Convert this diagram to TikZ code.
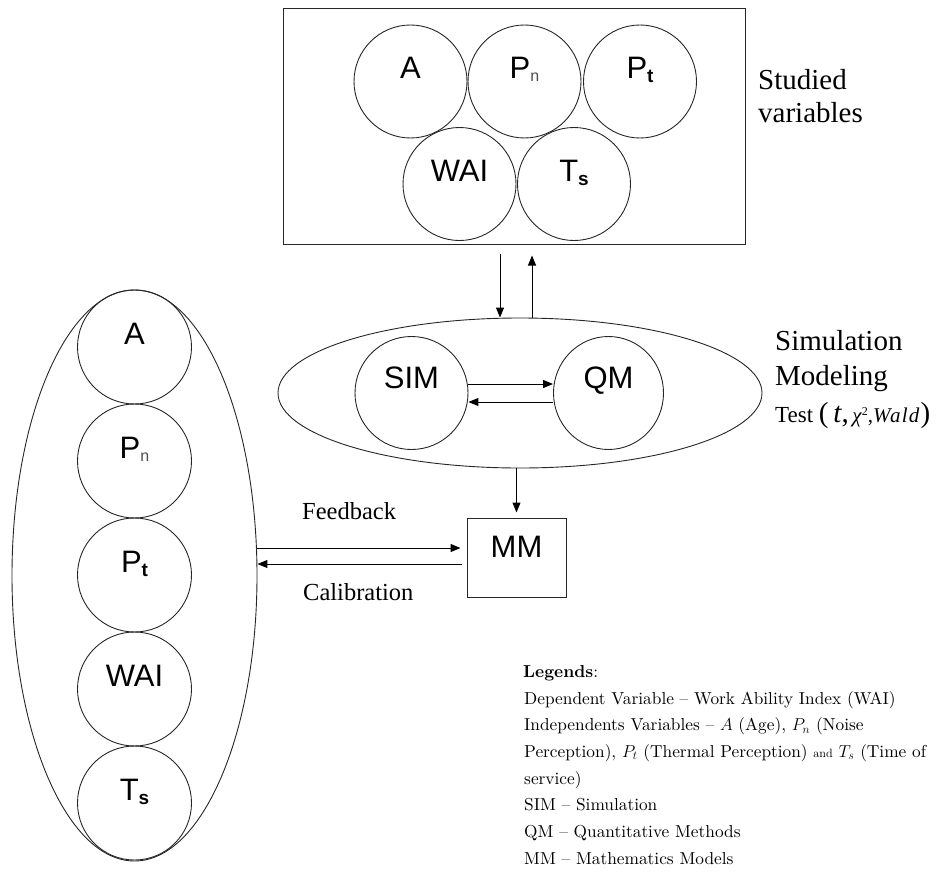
\documentclass[tikz,border=0pt]{standalone}
\usepackage{fontspec}
\newfontfamily\arialf{Liberation Sans}
\newfontfamily\timesf{Liberation Serif}
\newfontfamily\lmten{lmroman10-regular}[Extension=.otf, Ligatures=TeX, BoldFont=lmroman10-bold, ItalicFont=lmroman10-italic]
\usetikzlibrary{shapes.geometric,arrows.meta}
\newcommand{\sbl}[1]{{\fontsize{16}{16}\selectfont\raisebox{-3pt}{\color{black!70}#1}}}
\newcommand{\sbb}[1]{{\fontsize{19}{19}\selectfont\bfseries\raisebox{-4pt}{#1}}}
\begin{document}
\begin{tikzpicture}[x=1pt,y=-1pt,
  ln/.style={line width=0.9pt, draw=black!85},
  circ/.style={circle, ln, inner sep=0pt, minimum size=113pt,
    font=\arialf\fontsize{31}{31}\selectfont, text height=10pt, text depth=16pt},
  bigc/.style={circ, minimum size=114pt},
  mcirc/.style={circ, text depth=20pt},
  framebox/.style={rectangle, draw=black!85, line width=1pt, inner sep=0pt},
  oval/.style={ellipse, ln, inner sep=0pt},
  arr/.style={line width=1pt, draw=black, -{Triangle[length=10pt,width=8pt]}},
  serif/.style={inner sep=0pt, anchor=base west, font=\timesf\fontsize{29}{29}\selectfont},
  fbtxt/.style={inner sep=0pt, anchor=base west, font=\timesf\fontsize{24.5}{24.5}\selectfont},
  leg/.style={inner sep=0pt, anchor=base west, font=\lmten\fontsize{17.3}{17.3}\selectfont}
]
\useasboundingbox (0,0) rectangle (936,880);

% Studied variables box
\node[framebox, minimum width=462pt, minimum height=235pt] (top) at (514,126.5) {};
\node[circ] (tA)   at (410.5,81.5) {A};
\node[circ] (tPn)  at (524.5,81.5) {P\sbl{n}};
\node[circ] (tPt)  at (640,81.5)   {P\sbb{t}};
\node[circ] (tWAI) at (459.5,184)  {WAI};
\node[circ] (tTs)  at (574,184)    {T\sbb{s}};
\node[serif] (st1) at (758,90)  {Studied};
\node[serif] (st2) at (758,123) {variables};

% Simulation modeling
\node[oval, minimum width=484pt, minimum height=150pt] (mid) at (520,393) {};
\node[mcirc] (SIM) at (411.5,393) {SIM};
\node[mcirc, ellipse, minimum width=110pt, minimum height=113pt] (QM) at (608.5,393) {QM};
\node[serif] (sm1) at (775,350) {Simulation};
\node[serif] (sm2) at (775,385) {Modeling};
\node[inner sep=0pt, anchor=base west, font=\timesf] (sm3) at (775,422)
  {{\fontsize{23}{23}\selectfont Test }{\fontsize{29}{29}\selectfont(\,\textit{t},}{\fontsize{21}{21}\selectfont\,\textit{χ}\raisebox{7pt}{\fontsize{12}{12}\selectfont 2},\addfontfeatures{LetterSpace=6}\textit{Wald}}{\fontsize{29}{29}\selectfont)}};

% MM box
\node[framebox, minimum width=99pt, minimum height=79pt,
  font=\arialf\fontsize{31}{31}\selectfont, text height=12pt, text depth=12pt] (MM) at (516.5,557.5) {MM};

% Left column
\node[oval, minimum width=245pt, minimum height=571pt] (L) at (134.5,575.5) {};
\node[bigc] (lA)   at (134.5,347) {A};
\node[bigc] (lPn)  at (134.5,461) {P\sbl{n}};
\node[bigc] (lPt)  at (134.5,575) {P\sbb{t}};
\node[bigc] (lWAI) at (134.5,689) {WAI};
\node[bigc] (lTs)  at (134.5,803) {T\sbb{s}};

\node[fbtxt] (fb)  at (302,519) {Feedback};
\node[fbtxt] (cal) at (303,600) {Calibration};

% connectors
\draw[arr] ([xshift=-14pt,yshift=-9pt]top.south) -- ([xshift=-20pt]mid.north);
\draw[arr] ([xshift=12pt]mid.north) -- ([xshift=18pt,yshift=-11pt]top.south);
\draw[arr] ([yshift=9pt]SIM.east) -- ([yshift=9pt]QM.west);
\draw[arr] ([yshift=-9pt]QM.west) -- ([yshift=-9pt]SIM.east);
\draw[arr] ([xshift=-3.5pt]mid.south) -- ([yshift=5pt]MM.north);
\draw[arr] ([yshift=27.5pt]L.east) -- ([xshift=-6pt,yshift=9.5pt]MM.west);
\draw[arr] ([xshift=-5pt,yshift=-6.5pt]MM.west) -- ([yshift=11.5pt]L.east);

% Legend
\node[leg] (lg1) at (523,677.3) {\textbf{Legends}:};
\node[leg] (lg2) at (524,704) {Dependent Variable – Work Ability Index (WAI)};
\node[leg] (lg3) at (524,730.7) {Independents Variables – $A$ (Age), $P_n$ (Noise};
\node[leg] (lg4) at (524,757.3) {Perception), $P_t$ (Thermal Perception) {\fontsize{12}{12}\selectfont and} $T_s$ (Time of};
\node[leg] (lg5) at (524,784) {service)};
\node[leg] (lg6) at (524,810.7) {SIM – Simulation};
\node[leg] (lg7) at (524,837.3) {QM – Quantitative Methods};
\node[leg] (lg8) at (524,864) {MM – Mathematics Models};
\end{tikzpicture}
\end{document}
